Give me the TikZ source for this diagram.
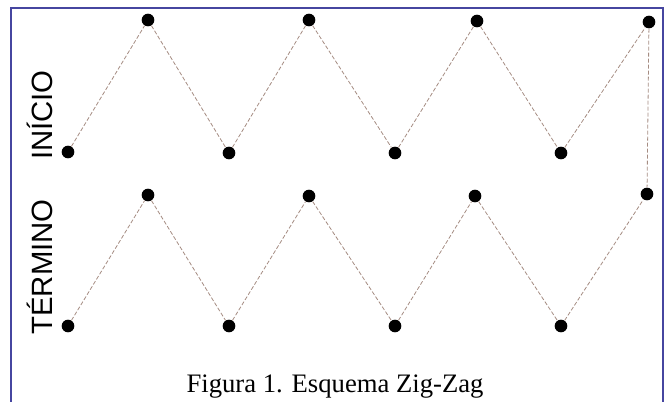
\documentclass[tikz,border=0pt]{standalone}
\usepackage{fontspec}
\setmainfont{Liberation Serif}
\newfontfamily\labelfont{Liberation Sans}
\usepackage{xcolor}
\usetikzlibrary{positioning}
\definecolor{frameblue}{RGB}{70,70,160}
\definecolor{zigcolor}{RGB}{165,140,130}

\begin{document}
\begin{tikzpicture}[
  x=0.75pt, y=-0.75pt,
  dot/.style={circle, fill=black, inner sep=0pt, minimum size=9.5pt},
  zig/.style={draw=zigcolor, dash pattern=on 3pt off 1.5pt, line width=0.6pt},
  frame/.style={draw=frameblue, line width=1.4pt},
  sidelabel/.style={rotate=90, anchor=base, inner sep=0pt, font=\labelfont\fontsize{22}{22}\selectfont}]

  \useasboundingbox (0,0) rectangle (668,401);
  \clip (0,0) rectangle (668,401);
  \draw[frame] (11,8) rectangle (663,412);

  % upper and lower rows of points
  \foreach \x/\y [count=\i] in {68/152, 148/20, 229/153, 309/20, 395/153, 477/21, 561/153, 649/22}
    \node[dot] (t\i) at (\x,\y) {};
  \foreach \x/\y [count=\i] in {68/326, 148/195, 229/326, 309/196, 395/326, 475/196, 561/326, 647/194}
    \node[dot] (b\i) at (\x,\y) {};

  \foreach \i [evaluate=\i as \j using int(\i+1)] in {1,...,7} {
    \draw[zig] (t\i) -- (t\j);
    \draw[zig] (b\i) -- (b\j);
  }
  \draw[zig] (t8) -- (b8);

  \node[sidelabel] (inicio) at (52,115) {INÍCIO};
  \node[sidelabel] (termino) at (52,267) {TÉRMINO};

  \node[anchor=base, font=\fontsize{20}{20}\selectfont] (caption) at (335,392) {Figura 1. Esquema Zig-Zag};
\end{tikzpicture}
\end{document}
